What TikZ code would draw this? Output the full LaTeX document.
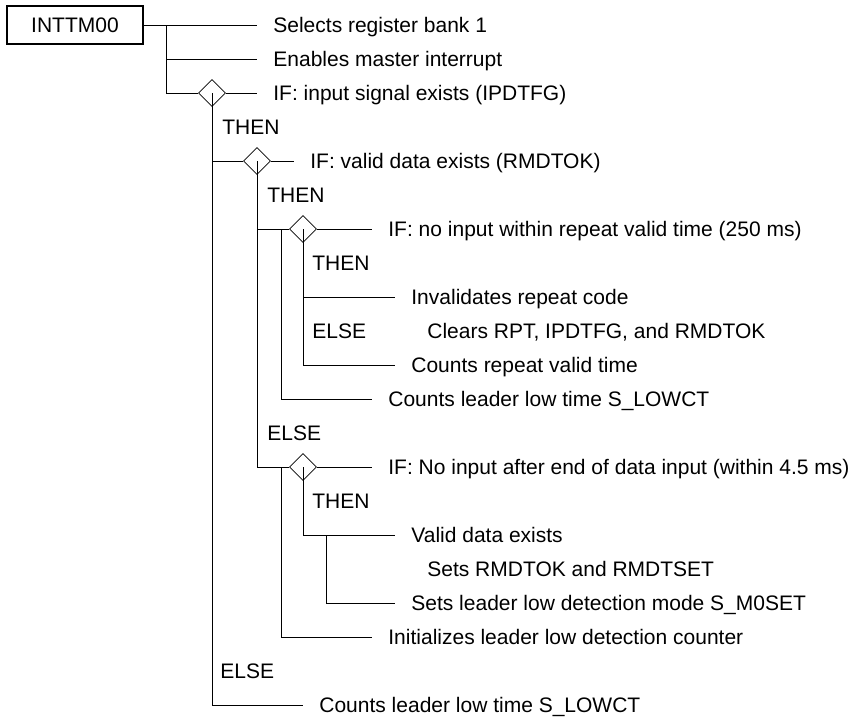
\documentclass[tikz,border=0pt]{standalone}
\usepackage{fontspec}
\setmainfont{Liberation Sans}
\usepackage{tikz}
\usetikzlibrary{shapes.geometric,positioning}

\begin{document}
\begin{tikzpicture}[x=1pt, y=-1pt, line width=0.8pt,
    every node/.style={font=\fontsize{21}{25}\selectfont},
    txt/.style={anchor=west, inner xsep=16pt, inner ysep=0pt, text height=15pt, text depth=0pt},
    lbl/.style={anchor=west, inner sep=0pt, text height=15pt, text depth=0pt},
    cond/.style={diamond, draw, inner sep=0pt, minimum size=27pt},
    rootbox/.style={draw, line width=1.6pt, minimum width=136pt, minimum height=38pt, inner sep=0pt}]
  \useasboundingbox (0,0) rectangle (859,721);
  % Routine name and first steps
  \node[rootbox] (root) at (75,25) {INTTM00};
  \node[txt] (s1) at (257,25) {Selects register bank 1};
  \node[txt] (s2) at (257,59) {Enables master interrupt};
  \node[cond] (c1) at (212,93) {};
  \node[txt] (s3) at (257,93) {IF: input signal exists (IPDTFG)};
  \coordinate (j1) at (166,25);
  \draw (root) -- (s1);
  \draw (j1) |- (s2);
  \draw (j1) |- (c1);
  \draw (c1) -- (s3);
  % THEN of IPDTFG
  \node[lbl] (then1) at (222,127) {THEN};
  \node[cond] (c2) at (257,161) {};
  \node[txt] (s4) at (294,161) {IF: valid data exists (RMDTOK)};
  \draw (c1.center) |- (c2);
  \draw (c2) -- (s4);
  % THEN of RMDTOK
  \node[lbl] (then2) at (267,195) {THEN};
  \node[cond] (c3) at (303,229) {};
  \node[txt] (s5) at (372,229) {IF: no input within repeat valid time (250 ms)};
  \node[lbl] (then3) at (312,263) {THEN};
  \node[txt] (s6) at (395,297) {Invalidates repeat code};
  \node[lbl] (else3) at (312,331) {ELSE};
  \node[txt] (s7) at (411,331) {Clears RPT, IPDTFG, and RMDTOK};
  \node[txt] (s8) at (395,365) {Counts repeat valid time};
  \node[txt] (s9) at (372,399) {Counts leader low time S\_LOWCT};
  \coordinate (j2) at (281,229);
  \draw (c2.center) |- (c3);
  \draw (c3) -- (s5);
  \draw (c3.center) |- (s6);
  \draw (c3.center) |- (s8);
  \draw (j2) |- (s9);
  % ELSE of RMDTOK
  \node[lbl] (else2) at (267,433) {ELSE};
  \node[cond] (c4) at (303,467) {};
  \node[txt] (s10) at (372,467) {IF: No input after end of data input (within 4.5 ms)};
  \node[lbl] (then4) at (312,501) {THEN};
  \node[txt] (s11) at (395,535) {Valid data exists};
  \node[txt] (s12) at (411,569) {Sets RMDTOK and RMDTSET};
  \node[txt] (s13) at (395,603) {Sets leader low detection mode S\_M0SET};
  \node[txt] (s14) at (372,637) {Initializes leader low detection counter};
  \coordinate (j3) at (281,467);
  \coordinate (j4) at (326,535);
  \draw (c2.center) |- (c4);
  \draw (c4) -- (s10);
  \draw (c4.center) |- (s11);
  \draw (j4) |- (s13);
  \draw (j3) |- (s14);
  % ELSE of IPDTFG
  \node[lbl] (else1) at (220,671) {ELSE};
  \node[txt] (s15) at (303,705) {Counts leader low time S\_LOWCT};
  \draw (c1.center) |- (s15);
\end{tikzpicture}
\end{document}
